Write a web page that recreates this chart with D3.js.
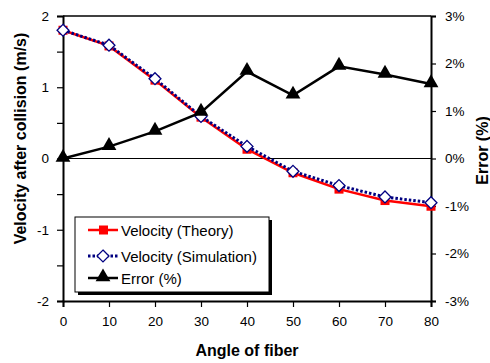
<!DOCTYPE html>
<html>
<head>
<meta charset="utf-8">
<script src="https://cdn.jsdelivr.net/npm/d3@7"></script>
<style>
  body { margin: 0; background: #fff; }
  text { font-family: "Liberation Sans", Arial, sans-serif; }
</style>
</head>
<body>
<script>
var angles = [0, 10, 20, 30, 40, 50, 60, 70, 80];
var velTheory = [1.80, 1.58, 1.10, 0.58, 0.13, -0.20, -0.43, -0.59, -0.67];
var velSim = [1.80, 1.59, 1.12, 0.59, 0.17, -0.18, -0.38, -0.54, -0.62];
var errorPct = [0.00, 0.25, 0.57, 0.97, 1.83, 1.33, 1.94, 1.77, 1.57];
var leftTicks = [-2, -1, 0, 1, 2];
var rightTicks = [-3, -2, -1, 0, 1, 2, 3];
var legendLabels = ["Velocity (Theory)", "Velocity (Simulation)", "Error (%)"];

var W = 490, H = 363;
var m = { left: 63, right: 59, top: 16, bottom: 62 };
var iw = W - m.left - m.right, ih = H - m.top - m.bottom;

var svg = d3.select("body").append("svg")
    .attr("width", W)
    .attr("height", H);

var x = d3.scaleLinear().domain([0, 80]).range([m.left, m.left + iw]);
var yL = d3.scaleLinear().domain([-2, 2]).range([m.top + ih, m.top]);
var yR = d3.scaleLinear().domain([-3, 3]).range([m.top + ih, m.top]);

// zero line
svg.append("line")
    .attr("x1", x(0)).attr("x2", x(80))
    .attr("y1", yL(0)).attr("y2", yL(0))
    .attr("stroke", "#000").attr("stroke-width", 1);

// top border
svg.append("line")
    .attr("x1", x(0)).attr("x2", x(80))
    .attr("y1", yL(2)).attr("y2", yL(2))
    .attr("stroke", "#000").attr("stroke-width", 1.5);

// axes
function styleAxis(g) {
  g.select(".domain").attr("stroke-width", 2);
  g.selectAll(".tick line").attr("stroke-width", 1.2);
  g.selectAll("text").attr("font-size", 13.5).attr("fill", "#000");
}

svg.append("g")
    .attr("transform", "translate(0," + (m.top + ih) + ")")
    .call(d3.axisBottom(x).tickValues(angles).tickSizeOuter(0).tickSize(6).tickPadding(9))
    .call(styleAxis);

svg.append("g")
    .attr("transform", "translate(" + m.left + ",0)")
    .call(d3.axisLeft(yL).tickValues(d3.range(-2, 2.01, 0.5)).tickSizeOuter(0).tickSize(6).tickPadding(8)
      .tickFormat(function(d) { return leftTicks.indexOf(d) >= 0 ? String(d) : ""; }))
    .call(styleAxis);

svg.append("g")
    .attr("transform", "translate(" + (m.left + iw) + ",0)")
    .call(d3.axisRight(yR).tickValues(rightTicks).tickSizeOuter(0).tickSize(5).tickPadding(9)
      .tickFormat(function(d) { return d + "%"; }))
    .call(styleAxis);

// axis titles
svg.append("text")
    .attr("transform", "translate(26," + (m.top + ih / 2 - 20) + ")rotate(-90)")
    .attr("text-anchor", "middle")
    .attr("font-size", 16).attr("font-weight", "bold")
    .text("Velocity after collision (m/s)");

svg.append("text")
    .attr("transform", "translate(488," + (m.top + ih / 2 - 8) + ")rotate(-90)")
    .attr("text-anchor", "middle")
    .attr("font-size", 16).attr("font-weight", "bold")
    .text("Error (%)");

svg.append("text")
    .attr("x", m.left + iw / 2).attr("y", 356)
    .attr("text-anchor", "middle")
    .attr("font-size", 16).attr("font-weight", "bold")
    .text("Angle of fiber");

// series
var lineL = function(vals) {
  return d3.line().x(function(d, i) { return x(angles[i]); }).y(function(d) { return yL(d); })(vals);
};
var lineR = d3.line().x(function(d, i) { return x(angles[i]); }).y(function(d) { return yR(d); });

svg.append("path").attr("d", lineL(velTheory))
    .attr("fill", "none").attr("stroke", "#ff0000").attr("stroke-width", 2.5);
svg.selectAll(".sq").data(velTheory).enter().append("rect")
    .attr("x", function(d, i) { return x(angles[i]) - 4.5; })
    .attr("y", function(d) { return yL(d) - 4.5; })
    .attr("width", 9).attr("height", 9)
    .attr("fill", "#ff0000");

svg.append("path").attr("d", lineL(velSim))
    .attr("fill", "none").attr("stroke", "#000080").attr("stroke-width", 3)
    .attr("stroke-dasharray", "2.5,2");
var diamond = d3.symbol().type(d3.symbolDiamond2).size(90);
svg.selectAll(".dm").data(velSim).enter().append("path")
    .attr("d", diamond)
    .attr("transform", function(d, i) { return "translate(" + x(angles[i]) + "," + yL(d) + ")"; })
    .attr("fill", "#fff").attr("stroke", "#000080").attr("stroke-width", 1.3);

svg.append("path").attr("d", lineR(errorPct))
    .attr("fill", "none").attr("stroke", "#000").attr("stroke-width", 2.5);
var tri = d3.symbol().type(d3.symbolTriangle).size(95);
svg.selectAll(".tr").data(errorPct).enter().append("path")
    .attr("d", tri)
    .attr("transform", function(d, i) { return "translate(" + x(angles[i]) + "," + (yR(d) - 1) + ")"; })
    .attr("fill", "#000");

// legend
var lg = svg.append("g").attr("transform", "translate(75,217)");
lg.append("rect").attr("x", 3).attr("y", 3).attr("width", 194).attr("height", 75).attr("fill", "#000");
lg.append("rect").attr("x", 0).attr("y", 0).attr("width", 194).attr("height", 75)
    .attr("fill", "#fff").attr("stroke", "#000").attr("stroke-width", 1);

var rowY = [13, 39, 61];
legendLabels.forEach(function(lab, i) {
  var r = lg.append("g").attr("transform", "translate(0," + rowY[i] + ")");
  if (i === 0) {
    r.append("line").attr("x1", 13).attr("x2", 43).attr("stroke", "#ff0000").attr("stroke-width", 2.5);
    r.append("rect").attr("x", 24).attr("y", -4.5).attr("width", 9).attr("height", 9).attr("fill", "#ff0000");
  } else if (i === 1) {
    r.append("line").attr("x1", 13).attr("x2", 43).attr("stroke", "#000080").attr("stroke-width", 3)
        .attr("stroke-dasharray", "2.5,2");
    r.append("path").attr("d", diamond).attr("transform", "translate(28,0)")
        .attr("fill", "#fff").attr("stroke", "#000080").attr("stroke-width", 1.3);
  } else {
    r.append("line").attr("x1", 13).attr("x2", 43).attr("stroke", "#000").attr("stroke-width", 2.5);
    r.append("path").attr("d", tri).attr("transform", "translate(28,-1)").attr("fill", "#000");
  }
  r.append("text").attr("x", 46).attr("y", 5.5).attr("font-size", 15).text(lab);
});
</script>
</body>
</html>
